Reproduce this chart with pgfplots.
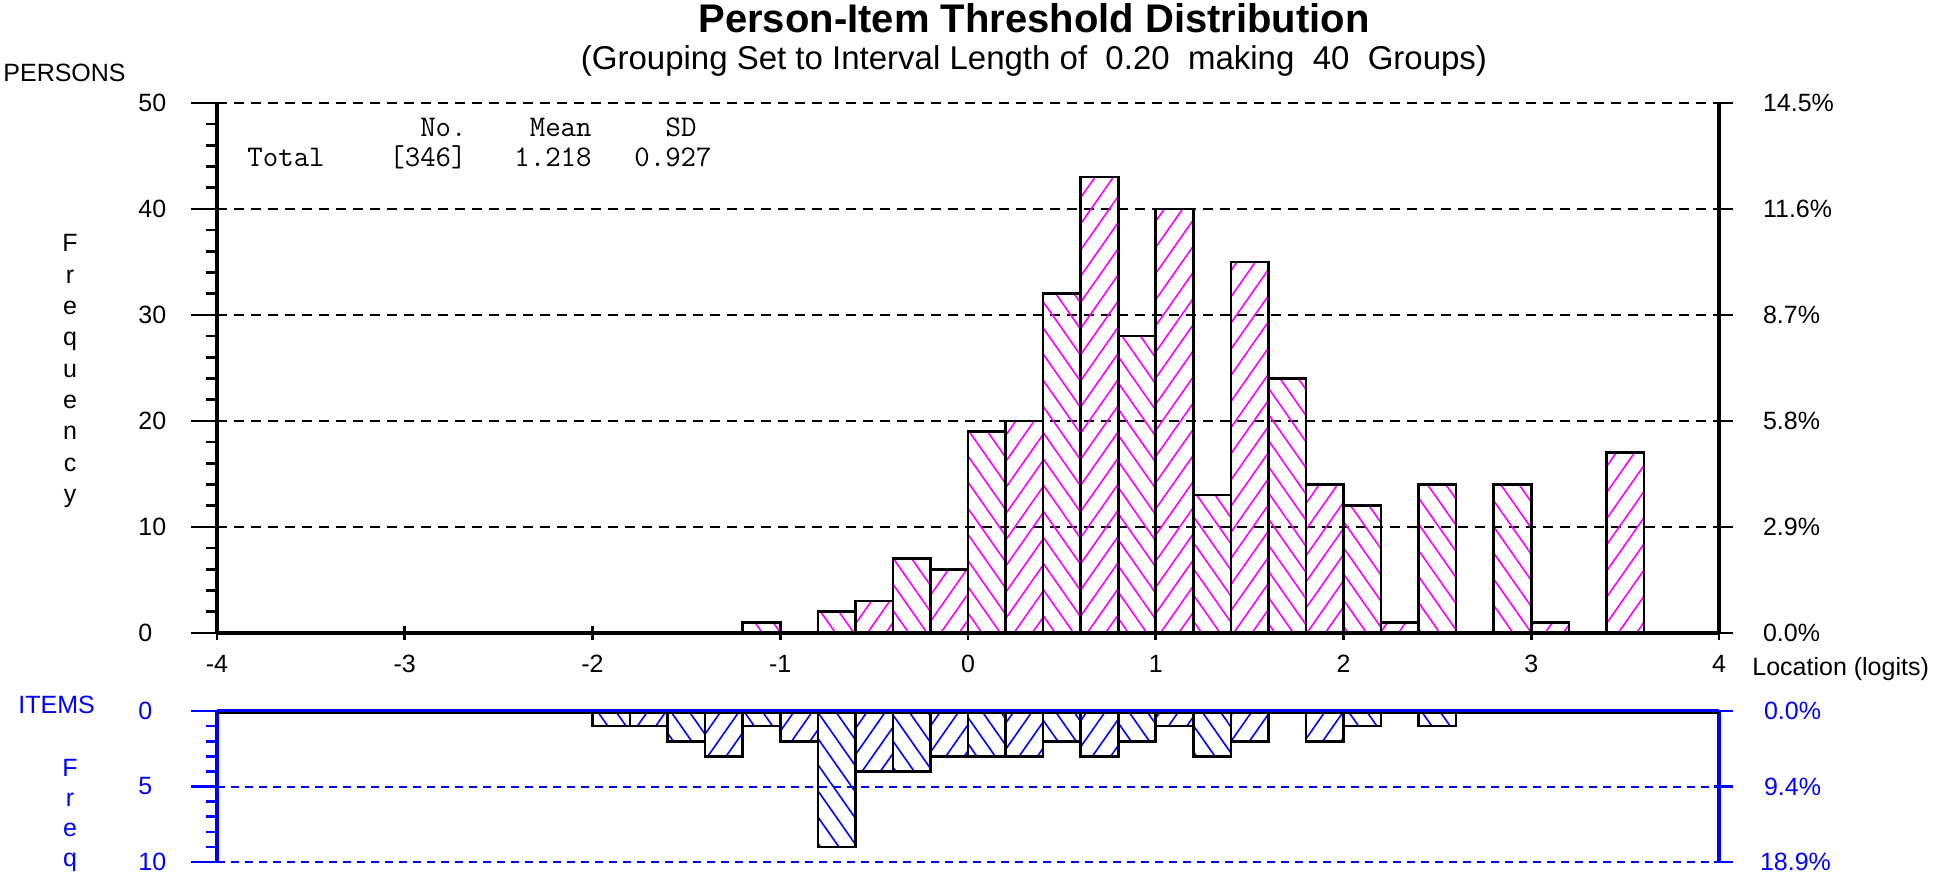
\documentclass[border=0pt]{standalone}
\usepackage{fontspec}
\setmainfont{Liberation Sans}
\usepackage{pgfplots}
\pgfplotsset{compat=1.18}
\usetikzlibrary{patterns.meta}
\definecolor{hatchpink}{RGB}{255,0,255}
\definecolor{itemblue}{RGB}{0,0,255}
\newcommand\tk{\fontsize{12.5}{14}\selectfont}

\pgfplotsset{
  hist/.style={ybar, bar width=0.2, bar shift=0pt, draw=black, line width=1.3pt, forget plot},
  up/.style={pattern={Lines[angle=55,distance=7.5pt,line width=0.8pt]}},
  down/.style={pattern={Lines[angle=-55,distance=7.5pt,line width=0.8pt]}},
  frame/.style={
    width=751pt, scale only axis,
    xmin=-4, xmax=4,
    clip=false,
    axis line style={draw=none},
    tick style={draw=none}, major tick length=0pt, minor tick length=0pt,
    tick label style={font=\tk, inner sep=0pt},
    yticklabel style={anchor=west, xshift=-39.5pt},
    ymajorgrids,
  },
}

\begin{document}
\begin{tikzpicture}
\path[use as bounding box] (0pt,0pt) rectangle (973pt,439pt);

% persons
\begin{axis}[
  frame,
  at={(108.5pt,122.5pt)}, anchor=south west,
  height=265pt,
  ymin=0, ymax=50,
  xtick={-4,...,4}, xticklabels={-4,-3,-2,-1,0,1,2,3,4},
  ytick={0,10,...,50}, yticklabels={0,10,20,30,40,50},
  major grid style={black, line width=1pt, dash pattern=on 5pt off 3.5pt},
  xticklabel style={yshift=-11pt},
]
  % even bins
  \addplot[hist, down, pattern color=hatchpink] coordinates {
    (-1.1,1) (-0.7,2) (-0.3,7) (0.1,19) (0.5,32) (0.9,28)
    (1.3,13) (1.7,24) (2.1,12) (2.5,14) (2.9,14)
  };
  % odd bins
  \addplot[hist, up, pattern color=hatchpink] coordinates {
    (-0.5,3) (-0.1,6) (0.3,20) (0.7,43) (1.1,40) (1.5,35)
    (1.9,14) (2.3,1) (3.1,1) (3.5,17)
  };

  \draw[line width=1.9pt] (axis cs:-4,0) -- (axis cs:-4,50);
  \draw[line width=1.9pt] (axis cs:4,0) -- (axis cs:4,50);
  \draw[line width=1.9pt] (axis cs:-4,0) -- (axis cs:4,0);
  \pgfplotsinvokeforeach{0,10,20,30,40,50}{
    \draw[line width=1.3pt] (axis cs:-4,#1) -- ([xshift=-13pt]axis cs:-4,#1);
    \draw[line width=1.3pt] ([xshift=-2.5pt]axis cs:4,#1) -- ([xshift=7pt]axis cs:4,#1);
  }
  \pgfplotsinvokeforeach{2,4,6,8,12,14,16,18,22,24,26,28,32,34,36,38,42,44,46,48}{
    \draw[line width=1.3pt] (axis cs:-4,#1) -- ([xshift=-5.5pt]axis cs:-4,#1);
  }
  \pgfplotsinvokeforeach{-4,-3,-2,-1,0,1,2,3,4}{
    \draw[line width=1.3pt] ([yshift=3.5pt]axis cs:#1,0) -- ([yshift=-3.5pt]axis cs:#1,0);
  }

  \node[anchor=west, font=\tk] at ([xshift=18.5pt]axis cs:4,50) {14.5\%};
  \node[anchor=west, font=\tk] at ([xshift=18.5pt]axis cs:4,40) {11.6\%};
  \node[anchor=west, font=\tk] at ([xshift=18.5pt]axis cs:4,30) {8.7\%};
  \node[anchor=west, font=\tk] at ([xshift=18.5pt]axis cs:4,20) {5.8\%};
  \node[anchor=west, font=\tk] at ([xshift=18.5pt]axis cs:4,10) {2.9\%};
  \node[anchor=west, font=\tk] at ([xshift=18.5pt]axis cs:4,0) {0.0\%};
\end{axis}

% items
\begin{axis}[
  frame,
  at={(108.5pt,83.5pt)}, anchor=north west,
  height=75.5pt,
  ymin=0, ymax=10, y dir=reverse,
  xtick=\empty,
  ytick={0,5,10}, yticklabels={0,5,10},
  major grid style={itemblue, line width=1pt, dash pattern=on 4pt off 3pt},
  yticklabel style={text=itemblue},
]
  % even bins
  \addplot[hist, down, pattern color=itemblue] coordinates {
    (-1.9,1) (-1.5,2) (-1.1,1) (-0.7,9) (-0.3,4) (0.1,3)
    (0.5,2) (0.9,2) (1.3,3) (2.1,1) (2.5,1)
  };
  % odd bins
  \addplot[hist, up, pattern color=itemblue] coordinates {
    (-1.7,1) (-1.3,3) (-0.9,2) (-0.5,4) (-0.1,3) (0.3,3)
    (0.7,3) (1.1,1) (1.5,2) (1.9,2)
  };

  \draw[itemblue, line width=1.9pt] (axis cs:-4,0) -- (axis cs:-4,10);
  \draw[itemblue, line width=1.9pt] (axis cs:4,0) -- (axis cs:4,10);
  \draw[itemblue, line width=1.8pt] (axis cs:-4,0) -- (axis cs:4,0);
  \draw[black, line width=1.2pt] ([yshift=-0.9pt]axis cs:-4,0) -- ([yshift=-0.9pt]axis cs:4,0);
  \pgfplotsinvokeforeach{0,5,10}{
    \draw[itemblue, line width=1.3pt] (axis cs:-4,#1) -- ([xshift=-13pt]axis cs:-4,#1);
    \draw[itemblue, line width=1.3pt] ([xshift=-2.5pt]axis cs:4,#1) -- ([xshift=7pt]axis cs:4,#1);
  }
  \pgfplotsinvokeforeach{1,2,3,4,6,7,8,9}{
    \draw[itemblue, line width=1.3pt] (axis cs:-4,#1) -- ([xshift=-5.5pt]axis cs:-4,#1);
  }

  \node[anchor=west, font=\tk, text=itemblue] at ([xshift=19pt]axis cs:4,0) {0.0\%};
  \node[anchor=west, font=\tk, text=itemblue] at ([xshift=19pt]axis cs:4,5) {9.4\%};
  \node[anchor=west, font=\tk, text=itemblue] at ([xshift=17pt]axis cs:4,10) {18.9\%};
\end{axis}

% titles and labels
\node[font=\fontsize{20}{24}\selectfont\bfseries] at (517pt,430pt) {Person-Item Threshold Distribution};
\node[font=\fontsize{16.5}{20}\selectfont] at (517pt,408.5pt) {(Grouping Set to Interval Length of\ \ 0.20\ \ making\ \ 40\ \ Groups)};
\node[anchor=west, font=\tk, inner sep=0pt] at (1.5pt,402.5pt) {PERSONS};
\node[anchor=west, font=\tk, inner sep=0pt, text=itemblue] at (9pt,86.5pt) {ITEMS};
\node[anchor=west, font=\tk, inner sep=0pt] at (876pt,104.5pt) {Location (logits)};

\foreach \c [count=\i from 0] in {F,r,e,q,u,e,n,c,y}
  \node[anchor=base, font=\tk, inner sep=0pt] at (35pt,{(313-15.65*\i)*1pt}) {\c};
\foreach \c [count=\i from 0] in {F,r,e,q}
  \node[anchor=base, font=\tk, inner sep=0pt, text=itemblue] at (35pt,{(51-15*\i)*1pt}) {\c};

% summary statistics
\begin{scope}[every node/.style={font=\ttfamily\fontsize{15}{17}\selectfont, inner sep=0pt}]
  \node[anchor=base east] at (233.5pt,370.5pt) {No.};
  \node[anchor=base east] at (296pt,370.5pt) {Mean};
  \node[anchor=base east] at (348.5pt,370.5pt) {SD};
  \node[anchor=base west] at (123.5pt,355.5pt) {Total};
  \node[anchor=base east] at (233.5pt,355.5pt) {[346]};
  \node[anchor=base east] at (296pt,355.5pt) {1.218};
  \node[anchor=base east] at (356pt,355.5pt) {0.927};
\end{scope}
\end{tikzpicture}
\end{document}
